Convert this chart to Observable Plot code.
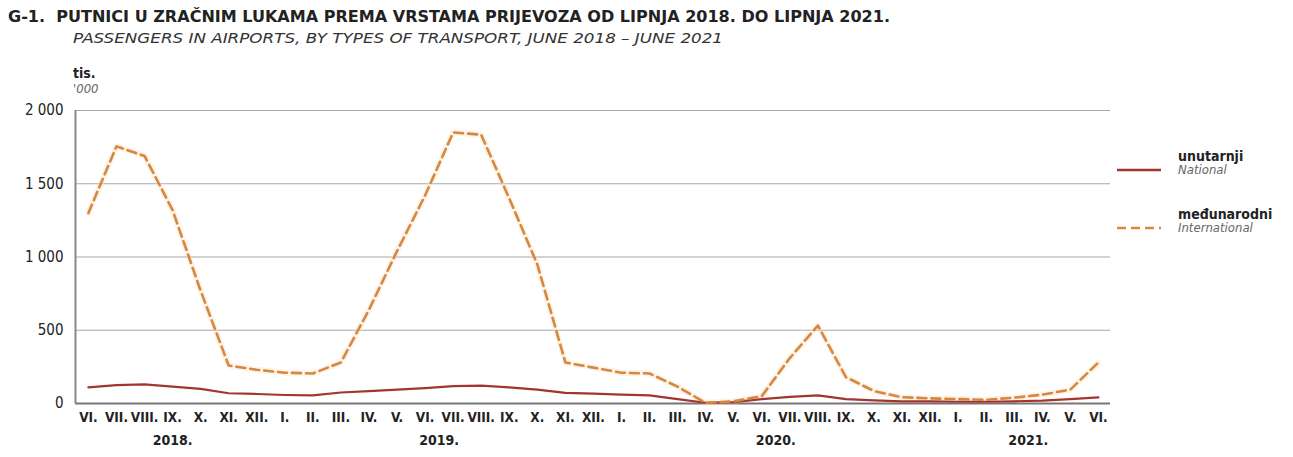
<!DOCTYPE html>
<html>
<head>
<meta charset="utf-8">
<script src="https://cdn.jsdelivr.net/npm/d3@7"></script>
<script src="https://cdn.jsdelivr.net/npm/@observablehq/plot@0.6"></script>
<style>
  html, body { margin: 0; padding: 0; background: #fff; }
  body { width: 1293px; height: 457px; position: relative; overflow: hidden; font-family: "Liberation Sans Narrow", "DejaVu Sans Condensed", "Liberation Sans", sans-serif; }
  #title { position: absolute; left: 8px; top: 8px; font-size: 15px; font-weight: bold; color: #222; white-space: nowrap; transform-origin: 0 0; }
  #subtitle { position: absolute; left: 73px; top: 30px; font-size: 14px; font-style: italic; color: #333; white-space: nowrap; transform-origin: 0 0; }
  #unit1 { position: absolute; left: 73px; top: 65px; font-size: 14px; font-weight: bold; color: #222; z-index: 2; }
  #unit2 { position: absolute; left: 73px; top: 81px; font-size: 13px; font-style: italic; color: #666; z-index: 2; }
  #chart { position: absolute; left: 0; top: 55px; z-index: 1; }
  .leg { position: absolute; left: 1117px; }
  .legt { position: absolute; left: 1178px; white-space: nowrap; }
  .legt b { display: block; font-size: 14px; color: #222; }
  .legt i { display: block; font-size: 13px; color: #666; margin-top: -2px; }
</style>
</head>
<body>
<div id="title">G-1.&nbsp; PUTNICI U ZRAČNIM LUKAMA PREMA VRSTAMA PRIJEVOZA OD LIPNJA 2018. DO LIPNJA 2021.</div>
<div id="subtitle">PASSENGERS IN AIRPORTS, BY TYPES OF TRANSPORT, JUNE 2018 – JUNE 2021</div>
<div id="unit1">tis.</div>
<div id="unit2">'000</div>
<div id="chart"></div>
<div id="legend"></div>
<script>
// ---- data ----
const monthLabels = ["VI.","VII.","VIII.","IX.","X.","XI.","XII.",
  "I.","II.","III.","IV.","V.","VI.","VII.","VIII.","IX.","X.","XI.","XII.",
  "I.","II.","III.","IV.","V.","VI.","VII.","VIII.","IX.","X.","XI.","XII.",
  "I.","II.","III.","IV.","V.","VI."];
const yearLabels = ["2018.", "2019.", "2020.", "2021."];
const monthsPerYear = [7, 12, 12, 6];
const national = [110,125,130,115,100,70,65,58,55,75,85,95,105,118,122,110,95,72,68,60,55,30,5,10,30,45,55,30,22,15,15,12,12,15,20,30,42];
const international = [1300,1755,1690,1320,770,259,230,210,205,280,640,1040,1420,1850,1835,1400,950,280,245,210,205,115,5,15,50,310,532,180,85,43,35,30,25,40,60,95,280];
const yTicks = [0, 500, 1000, 1500, 2000];
const seriesNames = [
  {hr: "unutarnji", en: "National"},
  {hr: "međunarodni", en: "International"}
];

const colNat = "#a3352f";
const colInt = "#d6883f";

const idx = d3.range(monthLabels.length);
const natData = idx.map(i => ({i, v: national[i]}));
const intData = idx.map(i => ({i, v: international[i]}));
let start = 0;
const yearData = yearLabels.map((y, k) => {
  const n = monthsPerYear[k];
  const d = {label: y, i: start + (n - 1) / 2};
  start += n;
  return d;
});

const fmt = d3.formatLocale({thousands: " ", grouping: [3], decimal: ","}).format(",");
const xDomain = [-0.46, idx.length - 1 + 0.43];

const chart = Plot.plot({
  width: 1293,
  height: 402,
  marginLeft: 75,
  marginRight: 183,
  marginTop: 55,
  marginBottom: 54,
  style: {fontFamily: "'Liberation Sans Narrow', 'DejaVu Sans Condensed', sans-serif", background: "transparent"},
  x: {domain: xDomain, axis: null},
  y: {domain: [0, 2000], axis: null},
  marks: [
    Plot.gridY(yTicks, {stroke: "#a8a8a8", strokeOpacity: 1, strokeWidth: 1.2}),
    Plot.ruleX([xDomain[0]], {stroke: "#888", strokeWidth: 2}),
    Plot.ruleY([0], {stroke: "#777", strokeWidth: 2}),
    Plot.axisY(yTicks, {label: null, tickSize: 0, tickPadding: 12, tickFormat: fmt, fontSize: 15, fill: "#222", fontWeight: 500}),
    Plot.axisX(idx, {label: null, tickSize: 0, tickPadding: 9, tickFormat: i => monthLabels[i], fontSize: 13.5, fontWeight: "bold", fill: "#222"}),
    Plot.text(yearData, {x: "i", y: () => 0, text: "label", dy: 37, fontSize: 14, fontWeight: "bold", fill: "#222"}),
    Plot.line(intData, {x: "i", y: "v", stroke: "#f8dcc0", strokeWidth: 6, strokeOpacity: 0.35}),
    Plot.line(natData, {x: "i", y: "v", stroke: colNat, strokeWidth: 2.2}),
    Plot.line(intData, {x: "i", y: "v", stroke: colInt, strokeWidth: 2.6, strokeDasharray: "9,5"})
  ]
});
document.getElementById("chart").appendChild(chart);

// ---- legend ----
const legend = document.getElementById("legend");
const legTops = [148, 206];
seriesNames.forEach((s, k) => {
  const top = legTops[k];
  const sw = document.createElementNS("http://www.w3.org/2000/svg", "svg");
  sw.setAttribute("width", 45); sw.setAttribute("height", 10);
  sw.setAttribute("class", "leg");
  sw.style.top = (top + 17) + "px";
  const ln = document.createElementNS("http://www.w3.org/2000/svg", "line");
  ln.setAttribute("x1", 0); ln.setAttribute("x2", 44); ln.setAttribute("y1", 5); ln.setAttribute("y2", 5);
  ln.setAttribute("stroke", k === 0 ? colNat : colInt);
  ln.setAttribute("stroke-width", k === 0 ? 2.4 : 2.6);
  if (k === 1) ln.setAttribute("stroke-dasharray", "9,5");
  sw.appendChild(ln);
  legend.appendChild(sw);
  const t = document.createElement("div");
  t.className = "legt";
  t.style.top = top + "px";
  t.innerHTML = `<b>${s.hr}</b><i>${s.en}</i>`;
  legend.appendChild(t);
});

// fit title widths to the reference lengths
function fit(id, w) {
  const el = document.getElementById(id);
  const cur = el.getBoundingClientRect().width;
  el.style.transform = `scaleX(${w / cur})`;
}
fit("title", 882);
fit("subtitle", 650);
</script>
</body>
</html>
